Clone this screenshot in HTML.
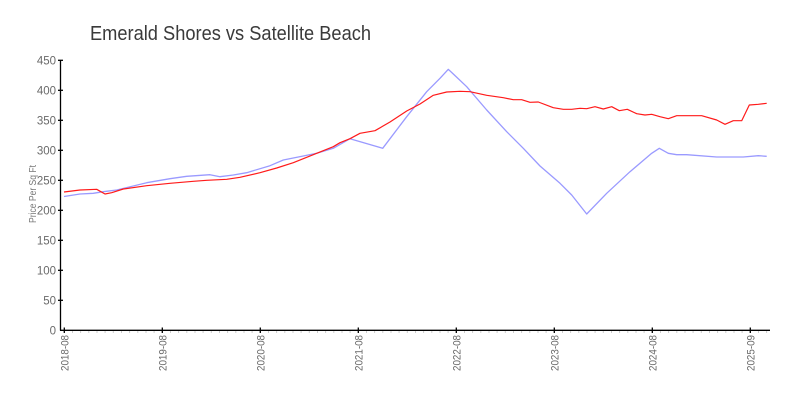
<!DOCTYPE html>
<html>
<head>
<meta charset="utf-8">
<style>
html,body{margin:0;padding:0;background:#fff;}
svg{display:block;}
text{font-family:"Liberation Sans","DejaVu Sans",sans-serif;}
</style>
</head>
<body>
<svg width="800" height="400" viewBox="0 0 800 400" xmlns="http://www.w3.org/2000/svg">
<rect width="800" height="400" fill="#fff"/>
<text x="90" y="40" font-size="20" fill="#3a3a3a" textLength="281" lengthAdjust="spacingAndGlyphs">Emerald Shores vs Satellite Beach</text>

<!-- y axis title -->
<text transform="translate(36,194) rotate(-90)" text-anchor="middle" font-size="10.5" fill="#777" textLength="58" lengthAdjust="spacingAndGlyphs">Price Per Sq Ft</text>

<!-- y axis -->
<g stroke="#000" stroke-width="1.3">
<line x1="60.5" y1="60" x2="60.5" y2="330.5"/>
<line x1="58" y1="60.3" x2="63" y2="60.3"/>
<line x1="58" y1="90.3" x2="63" y2="90.3"/>
<line x1="58" y1="120.3" x2="63" y2="120.3"/>
<line x1="58" y1="150.3" x2="63" y2="150.3"/>
<line x1="58" y1="180.3" x2="63" y2="180.3"/>
<line x1="58" y1="210.3" x2="63" y2="210.3"/>
<line x1="58" y1="240.3" x2="63" y2="240.3"/>
<line x1="58" y1="270.3" x2="63" y2="270.3"/>
<line x1="58" y1="300.3" x2="63" y2="300.3"/>
</g>
<g font-size="11.5" fill="#6a6a6a" text-anchor="end">
<text x="56" y="64.5">450</text>
<text x="56" y="94.5">400</text>
<text x="56" y="124.5">350</text>
<text x="56" y="154.5">300</text>
<text x="56" y="184.5">250</text>
<text x="56" y="214.5">200</text>
<text x="56" y="244.5">150</text>
<text x="56" y="274.5">100</text>
<text x="56" y="304.5">50</text>
<text x="56" y="334.5">0</text>
</g>

<!-- x axis -->
<g stroke="#ccc" stroke-width="1">
<line x1="72.5" y1="330.5" x2="72.5" y2="333"/><line x1="80.6" y1="330.5" x2="80.6" y2="333"/><line x1="88.8" y1="330.5" x2="88.8" y2="333"/><line x1="97" y1="330.5" x2="97" y2="333"/><line x1="105.1" y1="330.5" x2="105.1" y2="333"/><line x1="113.3" y1="330.5" x2="113.3" y2="333"/><line x1="121.5" y1="330.5" x2="121.5" y2="333"/><line x1="129.6" y1="330.5" x2="129.6" y2="333"/><line x1="137.8" y1="330.5" x2="137.8" y2="333"/><line x1="146" y1="330.5" x2="146" y2="333"/><line x1="154.1" y1="330.5" x2="154.1" y2="333"/>
<line x1="170.5" y1="330.5" x2="170.5" y2="333"/><line x1="178.6" y1="330.5" x2="178.6" y2="333"/><line x1="186.8" y1="330.5" x2="186.8" y2="333"/><line x1="195" y1="330.5" x2="195" y2="333"/><line x1="203.1" y1="330.5" x2="203.1" y2="333"/><line x1="211.3" y1="330.5" x2="211.3" y2="333"/><line x1="219.5" y1="330.5" x2="219.5" y2="333"/><line x1="227.6" y1="330.5" x2="227.6" y2="333"/><line x1="235.8" y1="330.5" x2="235.8" y2="333"/><line x1="244" y1="330.5" x2="244" y2="333"/><line x1="252.1" y1="330.5" x2="252.1" y2="333"/>
<line x1="268.5" y1="330.5" x2="268.5" y2="333"/><line x1="276.6" y1="330.5" x2="276.6" y2="333"/><line x1="284.8" y1="330.5" x2="284.8" y2="333"/><line x1="293" y1="330.5" x2="293" y2="333"/><line x1="301.1" y1="330.5" x2="301.1" y2="333"/><line x1="309.3" y1="330.5" x2="309.3" y2="333"/><line x1="317.5" y1="330.5" x2="317.5" y2="333"/><line x1="325.6" y1="330.5" x2="325.6" y2="333"/><line x1="333.8" y1="330.5" x2="333.8" y2="333"/><line x1="342" y1="330.5" x2="342" y2="333"/><line x1="350.1" y1="330.5" x2="350.1" y2="333"/>
<line x1="366.5" y1="330.5" x2="366.5" y2="333"/><line x1="374.6" y1="330.5" x2="374.6" y2="333"/><line x1="382.8" y1="330.5" x2="382.8" y2="333"/><line x1="391" y1="330.5" x2="391" y2="333"/><line x1="399.1" y1="330.5" x2="399.1" y2="333"/><line x1="407.3" y1="330.5" x2="407.3" y2="333"/><line x1="415.5" y1="330.5" x2="415.5" y2="333"/><line x1="423.6" y1="330.5" x2="423.6" y2="333"/><line x1="431.8" y1="330.5" x2="431.8" y2="333"/><line x1="440" y1="330.5" x2="440" y2="333"/><line x1="448.1" y1="330.5" x2="448.1" y2="333"/>
<line x1="464.5" y1="330.5" x2="464.5" y2="333"/><line x1="472.6" y1="330.5" x2="472.6" y2="333"/><line x1="480.8" y1="330.5" x2="480.8" y2="333"/><line x1="489" y1="330.5" x2="489" y2="333"/><line x1="497.1" y1="330.5" x2="497.1" y2="333"/><line x1="505.3" y1="330.5" x2="505.3" y2="333"/><line x1="513.5" y1="330.5" x2="513.5" y2="333"/><line x1="521.6" y1="330.5" x2="521.6" y2="333"/><line x1="529.8" y1="330.5" x2="529.8" y2="333"/><line x1="538" y1="330.5" x2="538" y2="333"/><line x1="546.1" y1="330.5" x2="546.1" y2="333"/>
<line x1="562.5" y1="330.5" x2="562.5" y2="333"/><line x1="570.6" y1="330.5" x2="570.6" y2="333"/><line x1="578.8" y1="330.5" x2="578.8" y2="333"/><line x1="587" y1="330.5" x2="587" y2="333"/><line x1="595.1" y1="330.5" x2="595.1" y2="333"/><line x1="603.3" y1="330.5" x2="603.3" y2="333"/><line x1="611.5" y1="330.5" x2="611.5" y2="333"/><line x1="619.6" y1="330.5" x2="619.6" y2="333"/><line x1="627.8" y1="330.5" x2="627.8" y2="333"/><line x1="636" y1="330.5" x2="636" y2="333"/><line x1="644.1" y1="330.5" x2="644.1" y2="333"/>
<line x1="660.5" y1="330.5" x2="660.5" y2="333"/><line x1="668.6" y1="330.5" x2="668.6" y2="333"/><line x1="676.8" y1="330.5" x2="676.8" y2="333"/><line x1="685" y1="330.5" x2="685" y2="333"/><line x1="693.1" y1="330.5" x2="693.1" y2="333"/><line x1="701.3" y1="330.5" x2="701.3" y2="333"/><line x1="709.5" y1="330.5" x2="709.5" y2="333"/><line x1="717.6" y1="330.5" x2="717.6" y2="333"/><line x1="725.8" y1="330.5" x2="725.8" y2="333"/><line x1="734" y1="330.5" x2="734" y2="333"/><line x1="742.1" y1="330.5" x2="742.1" y2="333"/>
<line x1="758.5" y1="330.5" x2="758.5" y2="333"/><line x1="766.6" y1="330.5" x2="766.6" y2="333"/>
</g>
<g stroke="#000" stroke-width="1.3">
<line x1="60" y1="330.3" x2="770" y2="330.3"/>
<line x1="64.3" y1="327.5" x2="64.3" y2="333"/>
<line x1="162.3" y1="327.5" x2="162.3" y2="333"/>
<line x1="260.3" y1="327.5" x2="260.3" y2="333"/>
<line x1="358.3" y1="327.5" x2="358.3" y2="333"/>
<line x1="456.3" y1="327.5" x2="456.3" y2="333"/>
<line x1="554.3" y1="327.5" x2="554.3" y2="333"/>
<line x1="652.3" y1="327.5" x2="652.3" y2="333"/>
<line x1="750.3" y1="327.5" x2="750.3" y2="333"/>
</g>
<g font-size="11" fill="#6a6a6a" text-anchor="end">
<text transform="translate(68.3,335) rotate(-90)" textLength="36" lengthAdjust="spacingAndGlyphs">2018-08</text>
<text transform="translate(166.3,335) rotate(-90)" textLength="36" lengthAdjust="spacingAndGlyphs">2019-08</text>
<text transform="translate(264.3,335) rotate(-90)" textLength="36" lengthAdjust="spacingAndGlyphs">2020-08</text>
<text transform="translate(362.3,335) rotate(-90)" textLength="36" lengthAdjust="spacingAndGlyphs">2021-08</text>
<text transform="translate(460.3,335) rotate(-90)" textLength="36" lengthAdjust="spacingAndGlyphs">2022-08</text>
<text transform="translate(558.3,335) rotate(-90)" textLength="36" lengthAdjust="spacingAndGlyphs">2023-08</text>
<text transform="translate(656.3,335) rotate(-90)" textLength="36" lengthAdjust="spacingAndGlyphs">2024-08</text>
<text transform="translate(754.3,335) rotate(-90)" textLength="36" lengthAdjust="spacingAndGlyphs">2025-09</text>
</g>

<!-- blue series -->
<polyline fill="none" stroke="#9a9aff" stroke-width="1.3" stroke-linejoin="round" points="64,196.5 80,194 93.3,193.3 103.3,191.7 116.7,190 146.7,182.7 170,178.7 186.7,176.3 210,174.7 220,176.7 233.3,175 246.7,172.7 270,165.7 283.3,160 303.3,156 316.7,153.3 333.3,148.3 350,138.7 382.7,148.3 406.7,116.7 426.7,91.7 440,78.3 448.3,69.3 453.3,74 466.7,86.7 486.7,110 506.7,131.7 523.3,148.3 540,166 560,183.3 571.7,195 586.7,214 606.7,193.3 630,171.7 651.7,153.3 659.3,148.3 668.3,153.3 676.7,154.7 686.7,154.7 716.7,157 743.3,157 758.3,155.7 766.7,156.3"/>

<!-- red series -->
<polyline fill="none" stroke="#ff1a1a" stroke-width="1.2" stroke-linejoin="round" points="64,192 80,190 96.7,189.3 105,194 111.7,192.7 123.3,189 146.7,185.7 170,183.3 193.3,181.3 206.7,180.3 226.7,179.3 240,177.3 260,172.7 276.7,168 293.3,162.7 316.7,153.3 333.3,146.7 340,142.7 350,138.7 360,133.3 375,130.7 390,122 406.7,111 420,104 433.3,95.3 446.7,92 460,91.3 470,91.7 486.7,95.3 503.3,97.7 513.3,99.7 521.7,99.7 530,102.3 538.3,102 553.3,107.7 563.3,109.3 571.7,109.3 580,108.3 586.7,108.7 595,106.7 603.3,109 611.7,106.7 619.3,110.7 627.3,109.3 636.7,113.7 645,115 651.7,114.3 660,116.7 668.3,118.7 676.7,115.7 701.7,115.7 716.7,120 725,124.3 733.3,120.7 741.7,120.7 749.3,105 758.3,104.3 766.7,103.3"/>
</svg>
</body>
</html>
